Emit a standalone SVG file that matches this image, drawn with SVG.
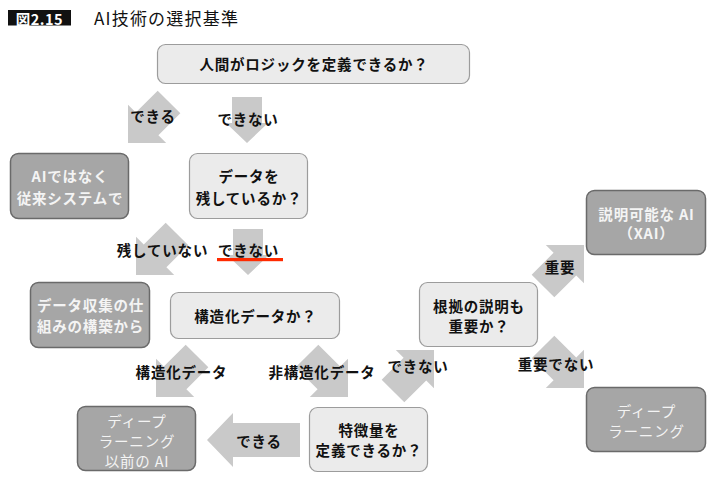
<svg xmlns="http://www.w3.org/2000/svg" xmlns:xlink="http://www.w3.org/1999/xlink" width="714" height="481" viewBox="0 0 714 481">
<style>
text{font-family:"Noto Sans CJK JP","Noto Sans",sans-serif;dominant-baseline:central;text-anchor:middle;letter-spacing:0.8px}
.lbl{font-size:14.5px;font-weight:700;fill:#111}
.bt{font-size:14.5px;font-weight:700;fill:#111}
.wt{font-size:14.5px;font-weight:700;fill:#f4f4f4}
.wn{font-size:14.5px;font-weight:400;fill:#f4f4f4}
.lb{fill:#ebebeb;stroke:#9c9c9c;stroke-width:1.2}
.db{fill:#a6a6a6;stroke:#6a6a6a;stroke-width:1.5}
.arr{fill:#c9c9c9}
</style>
<defs>
<polygon id="ad" points="0,0 -27,-27 -27,-16 -58,-16 -58,16 -27,16 -27,27"/>
<polygon id="av" points="0,0 -20,-21 -20,-15 -46,-15 -46,15 -20,15 -20,21"/>
</defs>
<rect width="714" height="481" fill="#fff"/>
<g id="title">
<rect x="8" y="10" width="63" height="15.5" fill="#111"/>
<text x="39.5" y="18" style="font-size:14.5px;font-weight:700;fill:#fff;letter-spacing:0.5px">図2.15</text>
<text x="94" y="17.5" style="font-size:17px;font-weight:400;fill:#111;text-anchor:start;letter-spacing:1.2px">AI技術の選択基準</text>
</g>
<g id="connectors" class="arr">
<use xlink:href="#ad" transform="translate(128,143) rotate(135)"/>
<use xlink:href="#av" transform="translate(247,143) rotate(90)"/>
<use xlink:href="#ad" transform="translate(136,275) rotate(135)"/>
<use xlink:href="#av" transform="translate(248,275) rotate(90)"/>
<use xlink:href="#ad" transform="translate(156,397) rotate(135)"/>
<use xlink:href="#ad" transform="translate(348,397) rotate(45)"/>
<use xlink:href="#ad" transform="translate(434,350) rotate(-45)"/>
<use xlink:href="#ad" transform="translate(584,245) rotate(-45)"/>
<use xlink:href="#ad" transform="translate(584,388) rotate(45)"/>
<polygon transform="translate(207,440) rotate(180)" points="0,0 -26,-27 -26,-17 -93,-17 -93,17 -26,17 -26,27"/>
</g>
<g id="n-top">
<rect class="lb" x="157.5" y="44.5" width="312" height="39" rx="8"/>
<text class="bt" x="314" y="63.5">人間がロジックを定義できるか？</text>
</g>
<g id="n-legacy">
<rect class="db" x="10.5" y="153.5" width="118" height="65" rx="8"/>
<text class="wt" x="70" y="175.5">AIではなく</text>
<text class="wt" x="70" y="197.5">従来システムで</text>
</g>
<g id="n-data">
<rect class="lb" x="189.5" y="153.5" width="118" height="65" rx="8"/>
<text class="bt" x="249" y="175.5">データを</text>
<text class="bt" x="249" y="197.5">残しているか？</text>
</g>
<g id="n-collect">
<rect class="db" x="30.5" y="282.5" width="119" height="65" rx="8"/>
<text class="wt" x="90.5" y="304.5">データ収集の仕</text>
<text class="wt" x="90.5" y="325">組みの構築から</text>
</g>
<g id="n-struct">
<rect class="lb" x="170.5" y="292.5" width="169" height="46" rx="8"/>
<text class="bt" x="255.5" y="315">構造化データか？</text>
</g>
<g id="n-predl">
<rect class="db" x="77.5" y="406.5" width="118" height="64" rx="8"/>
<text class="wn" x="137" y="420">ディープ</text>
<text class="wn" x="137" y="440">ラーニング</text>
<text class="wn" x="137" y="460">以前の AI</text>
</g>
<g id="n-feature">
<rect class="lb" x="309.5" y="407.5" width="118" height="64" rx="8"/>
<text class="bt" x="369" y="429.5">特徴量を</text>
<text class="bt" x="369" y="449.5">定義できるか？</text>
</g>
<g id="n-reason">
<rect class="lb" x="419.5" y="282.5" width="118" height="64" rx="8"/>
<text class="bt" x="479" y="305">根拠の説明も</text>
<text class="bt" x="479" y="325">重要か？</text>
</g>
<g id="n-xai">
<rect class="db" x="586.5" y="190.5" width="119" height="64" rx="8"/>
<text class="wt" x="646.5" y="213">説明可能な AI</text>
<text class="wt" x="646.5" y="232.5">（XAI）</text>
</g>
<g id="n-dl">
<rect class="db" x="586.5" y="387.5" width="119" height="64" rx="8"/>
<text class="wn" x="646.5" y="410.5">ディープ</text>
<text class="wn" x="646.5" y="430">ラーニング</text>
</g>
<g id="labels">
<text class="lbl" x="153" y="115">できる</text>
<text class="lbl" x="248" y="118">できない</text>
<text class="lbl" x="162.5" y="249">残していない</text>
<text class="lbl" x="248.5" y="249">できない</text>
<rect x="217" y="258" width="66" height="3.2" fill="#ff2a00"/>
<text class="lbl" x="181.5" y="371">構造化データ</text>
<text class="lbl" x="322" y="371">非構造化データ</text>
<text class="lbl" x="418" y="365">できない</text>
<text class="lbl" x="560" y="266">重要</text>
<text class="lbl" x="556" y="363">重要でない</text>
<text class="lbl" x="259" y="440">できる</text>
</g>
</svg>
